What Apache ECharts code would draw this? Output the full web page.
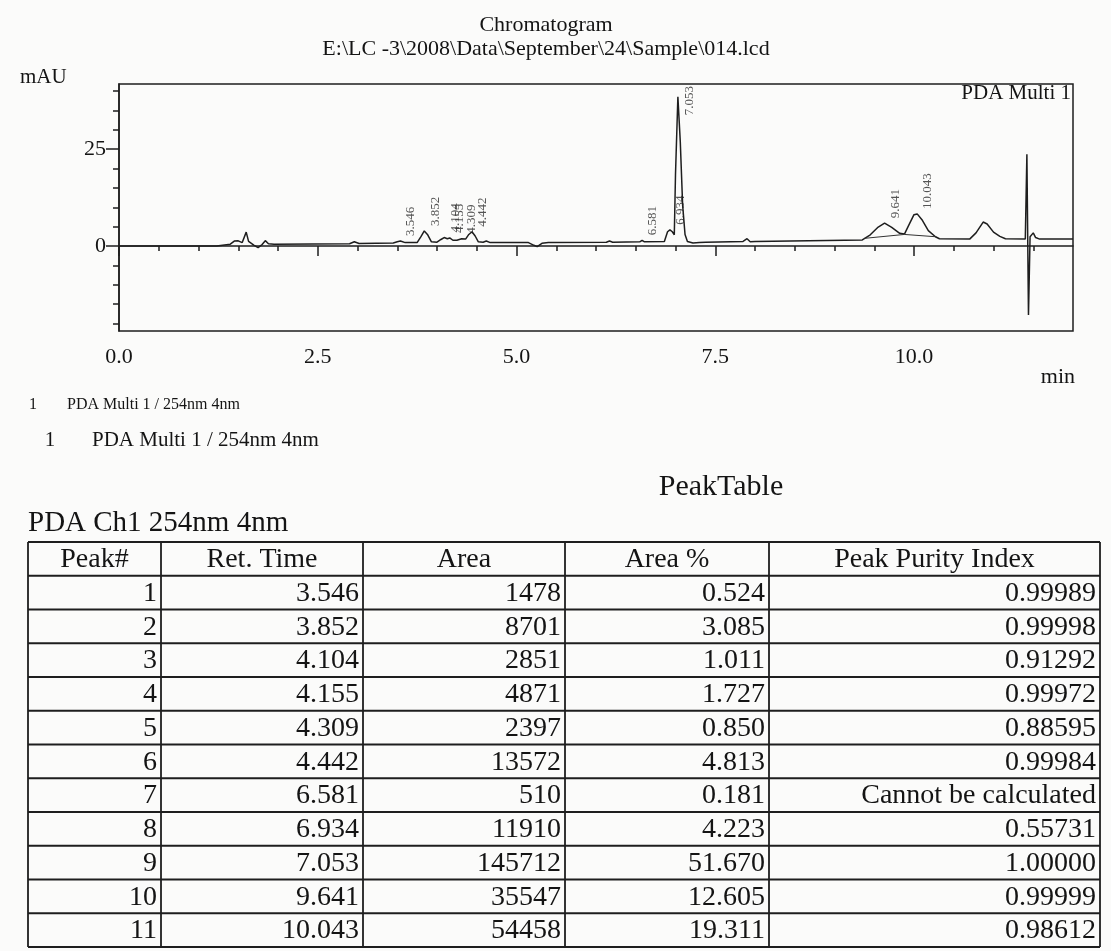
<!DOCTYPE html>
<html><head><meta charset="utf-8">
<script src="https://cdn.jsdelivr.net/npm/echarts@6/dist/echarts.min.js"></script>
<style>html,body{margin:0;padding:0;background:#fbfbfa;}#c{width:1111px;height:951px;}</style>
</head><body><div id="c"></div>
<script>
// ---------- data ----------
const chartTitle = 'Chromatogram';
const filePath = 'E:\\LC -3\\2008\\Data\\September\\24\\Sample\\014.lcd';
const traceTime = [0, 1.23, 1.25, 1.40, 1.45, 1.50, 1.55, 1.60, 1.63, 1.70, 1.75, 1.80, 1.84, 1.88, 1.95,
  2.90, 2.96, 3.02, 3.45, 3.50, 3.54, 3.60, 3.75, 3.80, 3.84, 3.88, 3.93, 4.00, 4.05, 4.09, 4.13, 4.16,
  4.20, 4.25, 4.31, 4.36, 4.40, 4.44, 4.48, 4.52, 4.58, 4.62, 4.67, 5.15, 5.22, 5.26, 5.32, 5.40,
  6.13, 6.17, 6.21, 6.55, 6.58, 6.61, 6.86, 6.90, 6.93, 6.96, 6.985, 7.00, 7.03, 7.06, 7.09, 7.12, 7.15,
  7.22, 7.30, 7.38, 7.85, 7.90, 7.94, 8.00, 9.35, 9.45, 9.55, 9.63, 9.72, 9.82, 9.88, 9.93, 10.00, 10.04,
  10.10, 10.18, 10.27, 10.32, 10.70, 10.78, 10.87, 10.92, 11.00, 11.08, 11.15, 11.40, 11.42, 11.44,
  11.46, 11.50, 11.53, 11.58, 12.0];
const traceSignal = [0, 0, 0.45, 0.5, 1.3, 1.35, 0.9, 3.6, 1.2, 0.2, -0.4, 0.4, 1.4, 0.6, 0.5,
  0.6, 1.1, 0.65, 0.8, 1.1, 1.3, 0.9, 0.9, 2.5, 3.9, 3.0, 1.1, 1.0, 1.7, 2.2, 1.9, 2.1,
  1.5, 1.5, 1.9, 1.8, 3.0, 3.7, 2.6, 1.1, 1.0, 1.3, 0.9, 0.9, 0.2, -0.15, 0.7, 0.9,
  1.0, 1.3, 1.0, 1.1, 1.5, 1.1, 1.2, 3.7, 4.2, 3.7, 2.9, 18.5, 38.5, 27, 10.5, 3.0, 1.2,
  0.8, 0.9, 1.0, 1.2, 1.9, 1.1, 1.2, 1.6, 2.9, 4.9, 5.9, 4.8, 3.3, 3.1, 5.2, 8.1, 8.3,
  6.8, 4.0, 2.4, 1.9, 1.8, 3.4, 6.2, 5.7, 3.6, 2.5, 1.9, 1.8, 23.7, -17.8,
  2.4, 3.4, 2.2, 1.8, 1.8];
const integTime = [9.38, 9.88, 10.28];
const integSignal = [2.0, 3.0, 2.4];

const peakNo = [1, 2, 3, 4, 5, 6, 7, 8, 9, 10, 11];
const retTime = [3.546, 3.852, 4.104, 4.155, 4.309, 4.442, 6.581, 6.934, 7.053, 9.641, 10.043];
const peakApex = [1.3, 3.9, 2.2, 2.1, 1.9, 3.7, 1.5, 4.2, 38.5, 5.9, 8.3];
const peakArea = [1478, 8701, 2851, 4871, 2397, 13572, 510, 11910, 145712, 35547, 54458];
const areaPct = ['0.524', '3.085', '1.011', '1.727', '0.850', '4.813', '0.181', '4.223', '51.670', '12.605', '19.311'];
const purity = ['0.99989', '0.99998', '0.91292', '0.99972', '0.88595', '0.99984', 'Cannot be calculated', '0.55731', '1.00000', '0.99999', '0.98612'];
const tableHeader = ['Peak#', 'Ret. Time', 'Area', 'Area %', 'Peak Purity Index'];

const xLabelValues = [0, 2.5, 5, 7.5, 10];
const xMinorTicks = [0, 0.5, 1, 1.5, 2, 2.5, 3, 3.5, 4, 4.5, 5, 5.5, 6, 6.5, 7, 7.5, 8, 8.5, 9, 9.5, 10, 10.5, 11, 11.5];
const yLabelValues = [0, 25];
const yMinorTicks = [-20, -15, -10, -5, 0, 5, 10, 15, 20, 25, 30, 35, 40];

// ---------- layout ----------
const F = 'Liberation Serif';
const INK = '#141414';
const gL = 119, gT = 84, gW = 954, gH = 247;
const yMin = -21.9, yMax = 41.8, xMin = 0, xMax = 12;

const ctx = document.createElement('canvas').getContext('2d');
const labelFont = 13;
ctx.font = labelFont + 'px "' + F + '"';

function yPix(v) { return gT + (yMax - v) / (yMax - yMin) * gH; }

const peakLabelData = retTime.map((t, i) => {
  const txt = t.toFixed(3);
  const len = ctx.measureText(txt).width;
  const cy = yPix(peakApex[i]);
  let anchor = cy - 5;
  if (anchor - len < gT + 2) anchor = gT + 2 + len;
  return {
    value: [t, peakApex[i]],
    label: { position: [11, anchor - cy + 1] }
  };
});

const axisLineStyle = { color: '#1e1e1e', width: 1.5 };
const txt = (o) => ({ type: 'text', silent: true, style: Object.assign({ fill: INK, fontFamily: F }, o) });

// ---------- table graphics ----------
const colX = [28, 161, 363, 565, 769, 1100];
const tTop = 542, rowH = 33.75, nRows = peakNo.length + 1;
const tableEls = [];
for (let r = 0; r <= nRows; r++) {
  const y = tTop + r * rowH;
  tableEls.push({ type: 'line', silent: true, shape: { x1: colX[0], y1: y, x2: colX[5], y2: y }, style: { stroke: '#1e1e1e', lineWidth: 1.8 } });
}
for (let c = 0; c < colX.length; c++) {
  tableEls.push({ type: 'line', silent: true, shape: { x1: colX[c], y1: tTop, x2: colX[c], y2: tTop + nRows * rowH }, style: { stroke: '#1e1e1e', lineWidth: 1.8 } });
}
tableHeader.forEach((h, c) => {
  tableEls.push(txt({ text: h, x: (colX[c] + colX[c + 1]) / 2, y: tTop + rowH / 2 + 1, fontSize: 28, align: 'center', textAlign: 'center', verticalAlign: 'middle', textVerticalAlign: 'middle' }));
});
const rows = peakNo.map((n, i) => [String(n), retTime[i].toFixed(3), String(peakArea[i]), areaPct[i], purity[i]]);
rows.forEach((row, r) => {
  row.forEach((v, c) => {
    tableEls.push(txt({ text: v, x: colX[c + 1] - 4, y: tTop + (r + 1.5) * rowH + 1, fontSize: 28, align: 'right', textAlign: 'right', verticalAlign: 'middle', textVerticalAlign: 'middle' }));
  });
});

const option = {
  backgroundColor: '#fbfbfa',
  animation: false,
  title: {
    text: chartTitle, subtext: filePath, left: 546, top: 13, textAlign: 'center', padding: 0, itemGap: 0,
    textStyle: { fontFamily: F, fontSize: 22, fontWeight: 'normal', color: INK, lineHeight: 24 },
    subtextStyle: { fontFamily: F, fontSize: 22, color: INK, lineHeight: 24 }
  },
  grid: { left: gL, top: gT, width: gW, height: gH, show: true, borderColor: '#1e1e1e', borderWidth: 1.5, backgroundColor: 'transparent' },
  xAxis: [
    { type: 'value', min: xMin, max: xMax, position: 'bottom',
      axisLine: { show: true, lineStyle: axisLineStyle },
      axisTick: { show: true, customValues: xMinorTicks, length: 5, lineStyle: axisLineStyle },
      axisLabel: { show: false }, splitLine: { show: false } },
    { type: 'value', min: xMin, max: xMax, position: 'bottom', offset: 0,
      axisLine: { show: false },
      axisTick: { show: true, customValues: xLabelValues, length: 10, lineStyle: axisLineStyle },
      axisLabel: { show: true, customValues: xLabelValues, formatter: v => v.toFixed(1), margin: 15, fontFamily: F, fontSize: 22, color: INK },
      splitLine: { show: false } }
  ],
  yAxis: [
    { type: 'value', min: yMin, max: yMax, position: 'left',
      axisLine: { show: true, lineStyle: axisLineStyle },
      axisTick: { show: true, customValues: yMinorTicks, length: 6, lineStyle: axisLineStyle },
      axisLabel: { show: false }, splitLine: { show: false } },
    { type: 'value', min: yMin, max: yMax, position: 'left', offset: 0,
      axisLine: { show: false },
      axisTick: { show: true, customValues: yLabelValues, length: 13, lineStyle: axisLineStyle },
      axisLabel: { show: true, customValues: yLabelValues, margin: 13, fontFamily: F, fontSize: 22, color: INK },
      splitLine: { show: false } }
  ],
  series: [
    { name: 'PDA Multi 1', type: 'line', xAxisIndex: 0, yAxisIndex: 0, symbol: 'none', clip: true,
      data: traceTime.map((t, i) => [t, traceSignal[i]]),
      lineStyle: { color: '#1e1e1e', width: 1.5 } },
    { name: 'baseline', type: 'line', xAxisIndex: 0, yAxisIndex: 0, symbol: 'none',
      data: integTime.map((t, i) => [t, integSignal[i]]),
      lineStyle: { color: '#333', width: 1 } },
    { name: 'peaks', type: 'scatter', xAxisIndex: 0, yAxisIndex: 0, symbolSize: 2,
      itemStyle: { color: 'transparent' },
      label: { show: true, rotate: 90, align: 'left', verticalAlign: 'middle', formatter: p => p.value[0].toFixed(3),
        fontFamily: F, fontSize: labelFont, color: '#2a2a2a' },
      data: peakLabelData }
  ],
  graphic: [
    txt({ text: 'mAU', x: 20, y: 77, fontSize: 21, align: 'left', textAlign: 'left', verticalAlign: 'middle', textVerticalAlign: 'middle' }),
    txt({ text: 'PDA Multi 1', x: 1071, y: 93, fontSize: 21, align: 'right', textAlign: 'right', verticalAlign: 'middle', textVerticalAlign: 'middle' }),
    txt({ text: 'min', x: 1075, y: 377, fontSize: 22, align: 'right', textAlign: 'right', verticalAlign: 'middle', textVerticalAlign: 'middle' }),
    txt({ text: '1', x: 33, y: 405, fontSize: 16, align: 'center', textAlign: 'center', verticalAlign: 'middle', textVerticalAlign: 'middle' }),
    txt({ text: 'PDA Multi 1 / 254nm 4nm', x: 67, y: 405, fontSize: 16, align: 'left', textAlign: 'left', verticalAlign: 'middle', textVerticalAlign: 'middle' }),
    txt({ text: '1', x: 50, y: 440, fontSize: 21, align: 'center', textAlign: 'center', verticalAlign: 'middle', textVerticalAlign: 'middle' }),
    txt({ text: 'PDA Multi 1 / 254nm 4nm', x: 92, y: 440, fontSize: 21, align: 'left', textAlign: 'left', verticalAlign: 'middle', textVerticalAlign: 'middle' }),
    txt({ text: 'PeakTable', x: 721, y: 487, fontSize: 30, align: 'center', textAlign: 'center', verticalAlign: 'middle', textVerticalAlign: 'middle' }),
    txt({ text: 'PDA Ch1 254nm 4nm', x: 28, y: 523, fontSize: 29, align: 'left', textAlign: 'left', verticalAlign: 'middle', textVerticalAlign: 'middle' })
  ].concat(tableEls)
};

const chart = echarts.init(document.getElementById('c'), null, { renderer: 'canvas' });
chart.setOption(option);
</script>
</body></html>
